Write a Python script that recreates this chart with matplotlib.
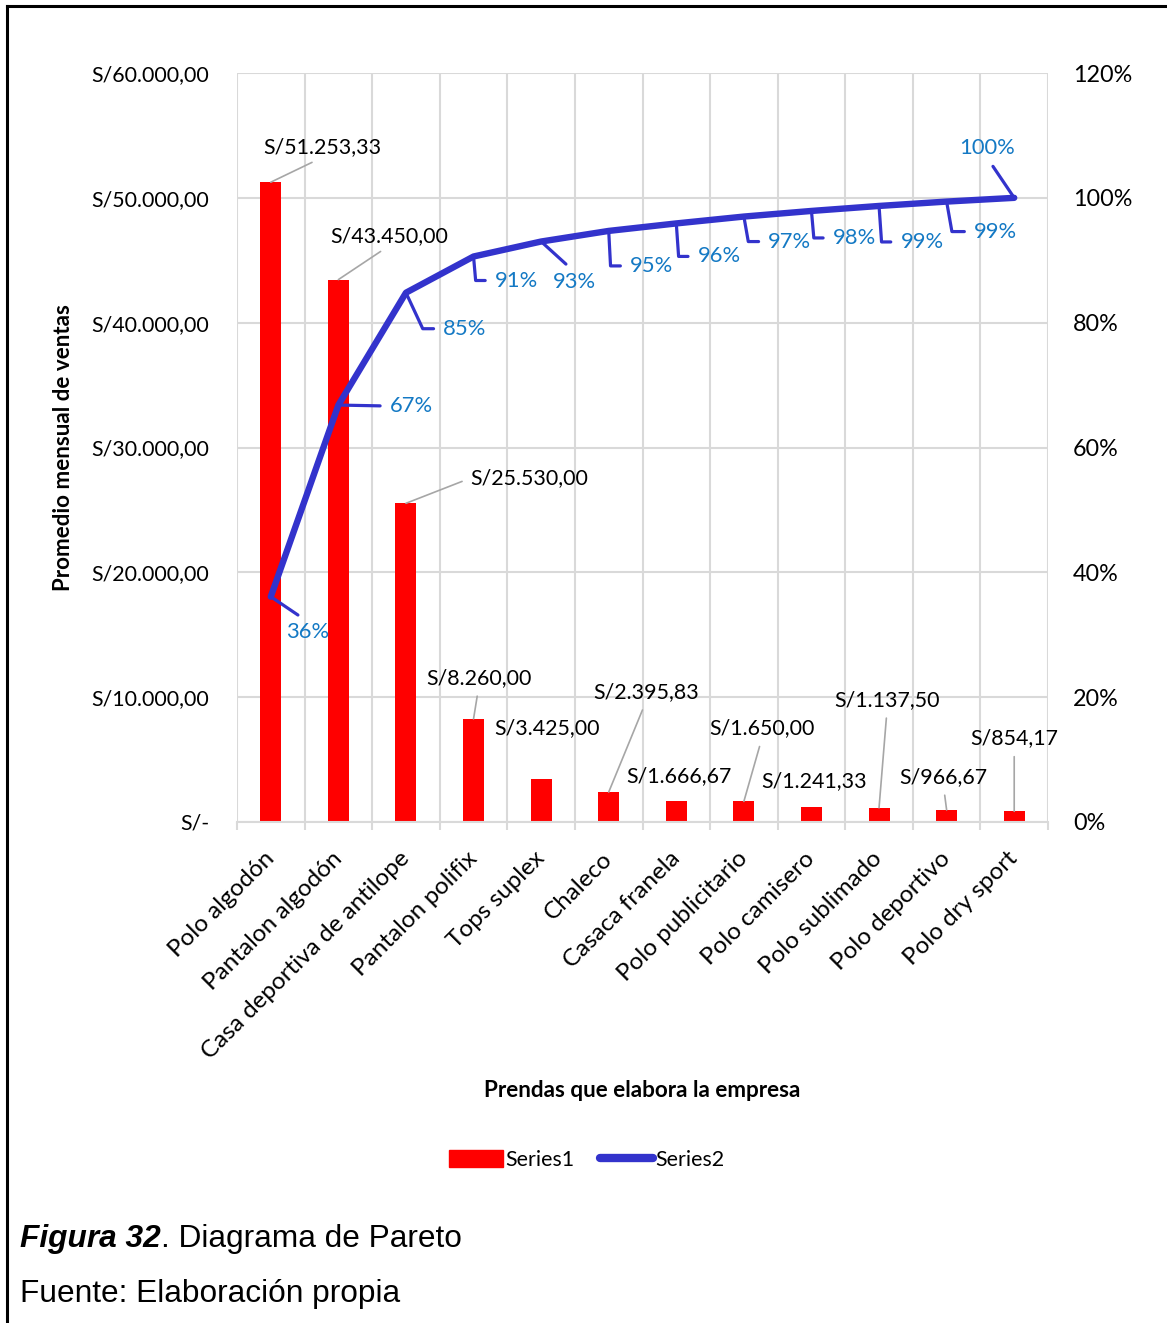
import numpy as np
import matplotlib.pyplot as plt
from matplotlib.lines import Line2D

# Pareto data: average monthly sales per garment and cumulative share
prendas = ['Polo algodón', 'Pantalon algodón', 'Casa deportiva de antilope',
           'Pantalon polifix', 'Tops suplex', 'Chaleco', 'Casaca franela',
           'Polo publicitario', 'Polo camisero', 'Polo sublimado',
           'Polo deportivo', 'Polo dry sport']
ventas = [51253.33, 43450.00, 25530.00, 8260.00, 3425.00, 2395.83,
          1666.67, 1650.00, 1241.33, 1137.50, 966.67, 854.17]
acumulado = [36.1, 66.8, 84.8, 90.6, 93.0, 94.7, 95.9, 97.0, 97.9, 98.7, 99.4, 100.0]

y_ticks = [0, 10000, 20000, 30000, 40000, 50000, 60000]
pct_ticks = [0, 20, 40, 60, 80, 100, 120]

# label placement (offset in pixels from the mark) and leader setup
bar_off = [(52, 35), (51, 44), (123, 25), (5, 41), (6, 51), (37, 100),
           (3, 25), (18, 73), (3, 25), (8, 108), (-3, 33), (0, 73)]
bar_lead = [(0.5, 0), (0.5, 0), (0, 0.5), (0.5, 0), None, (0.5, 0),
            None, (0.5, 0), None, (0.5, 0), (0.5, 0), (0.5, 0)]
pct_off = [(37, -35), (73, -1), (59, -36), (43, -24), (33, -40), (43, -35),
           (43, -33), (46, -25), (43, -27), (43, -36), (49, -30), (-27, 50)]
pct_rel = [(0.5, 1), (0, 0.5), (0, 0.5), (0, 0.5), (0.5, 1), (0, 0.5),
           (0, 0.5), (0, 0.5), (0, 0.5), (0, 0.5), (0, 0.5), (0.5, 0)]
pct_conn = ['arc3', 'arc3', 'angle,angleA=0,angleB=115,rad=0',
            'angle,angleA=0,angleB=95,rad=0', 'arc3',
            'angle,angleA=0,angleB=93,rad=0', 'angle,angleA=0,angleB=94,rad=0',
            'angle,angleA=0,angleB=100,rad=0', 'angle,angleA=0,angleB=95,rad=0',
            'angle,angleA=0,angleB=94,rad=0', 'angle,angleA=0,angleB=100,rad=0',
            'arc3']

FONT = 'Lato'
RED = '#FF0000'
BLUE = '#3333CC'
PCT_COLOR = '#1479C4'
GRID = '#D9D9D9'
FS = 15.4


def soles(v):
    if v == 0:
        return 'S/-'
    s = f'{v:,.2f}'.replace(',', '_').replace('.', ',').replace('_', '.')
    return 'S/' + s


plt.rcParams['font.family'] = FONT
fig = plt.figure(figsize=(11.67, 13.23), dpi=100)
ax = fig.add_axes([237 / 1167, 1 - 822 / 1323, 811 / 1167, 749 / 1323])

x = np.arange(len(prendas))
ax.bar(x, ventas, width=0.31, color=RED, zorder=2)
ax.set_xlim(-0.5, len(prendas) - 0.5)
ax.set_ylim(0, 60000)
ax.set_yticks(y_ticks)
ax.set_yticklabels([soles(v) for v in y_ticks], fontsize=FS)
ax.tick_params(axis='y', length=0, pad=20)
ax.yaxis.grid(True, color=GRID, lw=1.5, zorder=0)

ax.set_xticks(x)
ax.set_xticklabels(prendas, rotation=45, ha='right', va='center',
                   rotation_mode='anchor', fontsize=17.5)
ax.tick_params(axis='x', which='major', length=0, pad=24)
ax.set_xticks(np.arange(-0.5, len(prendas)), minor=True)
ax.tick_params(axis='x', which='minor', length=6, width=1.5, color=GRID)
ax.xaxis.grid(True, which='minor', color=GRID, lw=1.5, zorder=0)
ax.set_axisbelow(True)
for side in ['top', 'left', 'right']:
    ax.spines[side].set_visible(False)
ax.spines['bottom'].set_color(GRID)
ax.spines['bottom'].set_linewidth(1.5)

ax.set_xlabel('Prendas que elabora la empresa', fontsize=16.2, fontweight='bold')
ax.set_ylabel('Promedio mensual de ventas', fontsize=16.1, fontweight='bold')
ax.xaxis.set_label_coords(0.5, -0.3445)
ax.yaxis.set_label_coords(-0.201, 0.5)

# bar value labels with grey leaders
for i, v in enumerate(ventas):
    props = None
    if bar_lead[i] is not None:
        props = dict(arrowstyle='-', color='#A6A6A6', lw=1.2,
                     relpos=bar_lead[i], shrinkA=4, shrinkB=0)
    ax.annotate(soles(v), xy=(x[i], v), xytext=bar_off[i],
                textcoords='offset pixels', ha='center', va='center',
                fontsize=FS, color='black', arrowprops=props, zorder=4)

# cumulative line on the secondary axis
ax2 = ax.twinx()
ax2.set_ylim(0, 120)
ax2.plot(x, acumulado, color=BLUE, lw=4.6, solid_capstyle='round',
         solid_joinstyle='round', zorder=3)
ax2.set_yticks(pct_ticks)
ax2.set_yticklabels([f'{p}%' for p in pct_ticks], fontsize=16.8)
ax2.tick_params(axis='y', length=0, pad=18)
for side in ax2.spines:
    ax2.spines[side].set_visible(False)

for i, p in enumerate(acumulado):
    ax2.annotate(f'{p:.0f}%', xy=(x[i], p), xytext=pct_off[i],
                 textcoords='offset pixels', ha='center', va='center',
                 fontsize=15.8, color=PCT_COLOR,
                 arrowprops=dict(arrowstyle='-', color=BLUE, lw=2.3,
                                 relpos=pct_rel[i], shrinkA=5, shrinkB=0,
                                 connectionstyle=pct_conn[i]))

# legend
handles = [plt.Rectangle((0, 0), 1, 1, color=RED),
           Line2D([0], [0], color=BLUE, lw=6, solid_capstyle='round')]
fig.legend(handles, ['Series1', 'Series2'], loc='center',
           bbox_to_anchor=(587 / 1167, 1 - 1160 / 1323), ncol=2,
           frameon=False, fontsize=FS, handlelength=2.5, handleheight=0.8,
           handletextpad=0.1, columnspacing=1.2)

# frame lines
fig.add_artist(Line2D([7 / 1167, 1], [1 - 6 / 1323, 1 - 6 / 1323],
                      color='black', lw=2.2, transform=fig.transFigure))
fig.add_artist(Line2D([7 / 1167, 7 / 1167], [0, 1 - 6 / 1323],
                      color='black', lw=2.2, transform=fig.transFigure))

# caption
cap1 = fig.text(20 / 1167, 1 - 1239 / 1323, 'Figura 32', family='Liberation Sans',
                fontsize=22.8, fontweight='bold', fontstyle='italic', va='center')
fig.canvas.draw()
bb = cap1.get_window_extent()
fig.text(bb.x1 / fig.bbox.width, 1 - 1239 / 1323, '. Diagrama de Pareto',
         family='Liberation Sans', fontsize=22.8, va='center')
fig.text(20 / 1167, 1 - 1294 / 1323, 'Fuente: Elaboración propia',
         family='Liberation Sans', fontsize=22.8, va='center')

fig.savefig('out.png', dpi=100)
